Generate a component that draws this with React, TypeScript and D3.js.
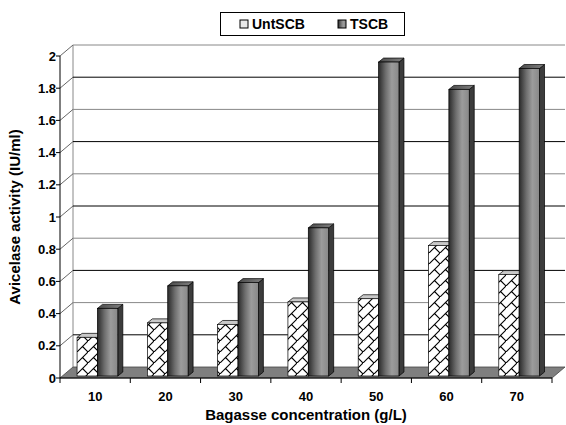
import React from "react";
import * as d3 from "d3";

const categories = ["10", "20", "30", "40", "50", "60", "70"];
const untSCB = [0.24, 0.33, 0.32, 0.46, 0.48, 0.81, 0.63];
const tSCB = [0.42, 0.56, 0.58, 0.92, 1.95, 1.78, 1.91];
const yTicks = [0, 0.2, 0.4, 0.6, 0.8, 1, 1.2, 1.4, 1.6, 1.8, 2];
const seriesNames = ["UntSCB", "TSCB"];

const W = 566;
const H = 425;
// front plane
const left = 60;
const right = 552;
const y0 = 378;
const y2 = 56;
// depth offset of back wall
const DX = 13;
const DY = -11;
// bar plane offset, bar depth
const BX = 2.4;
const BY = -2;
const bdx = 5;
const bdy = -4;

const font = "'Liberation Sans', Arial, sans-serif";

export default function App() {
  const x = d3.scaleBand<string>().domain(categories).range([left, right]).padding(0);
  const y = d3.scaleLinear().domain([0, 2]).range([y0, y2]);
  const bw = x.bandwidth() / 3.45;
  const fmt = (v: number) => d3.format("~g")(v);

  const bars: React.ReactNode[] = [];
  categories.forEach((c, i) => {
    const series = [untSCB[i], tSCB[i]];
    series.forEach((v, s) => {
      const bx = (x(c) as number) + 0.72 * bw + s * bw + BX;
      const top = y(v) + BY;
      const base = y(0) + BY;
      const h = base - top;
      const side = `M${bx + bw},${top} L${bx + bw + bdx},${top + bdy} L${bx + bw + bdx},${base + bdy} L${bx + bw},${base} Z`;
      const topFace = `M${bx},${top} L${bx + bdx},${top + bdy} L${bx + bw + bdx},${top + bdy} L${bx + bw},${top} Z`;
      bars.push(
        <g key={c + "-" + s}>
          <path d={side} fill={s === 0 ? "#9a9a9a" : "#3c3c3c"} stroke="#000" strokeWidth={0.7} />
          <path d={topFace} fill={s === 0 ? "#c8c8c8" : "url(#topGrad)"} stroke="#000" strokeWidth={0.7} />
          {s === 0 && <rect x={bx} y={top} width={bw} height={h} fill="#fff" />}
          <rect
            x={bx}
            y={top}
            width={bw}
            height={h}
            fill={s === 0 ? "url(#brick)" : "url(#barGrad)"}
            stroke="#000"
            strokeWidth={0.7}
          />
        </g>
      );
    });
  });

  return (
    <svg width={W} height={H} style={{ position: "absolute", left: 0, top: 0, background: "#fff" }}>
      <defs>
        <pattern id="brick" width={11} height={11} patternUnits="userSpaceOnUse">
          <rect width={11} height={11} fill="#fff" />
          <path d="M-1,12 L12,-1 M5.5,5.5 L12,12 M-1,-1 L0,0" stroke="#000" strokeWidth={1.1} fill="none" />
        </pattern>
        <linearGradient id="barGrad" x1="0" x2="1" y1="0" y2="0">
          <stop offset="0%" stopColor="#2a2a2a" />
          <stop offset="35%" stopColor="#6e6e6e" />
          <stop offset="65%" stopColor="#9c9c9c" />
          <stop offset="100%" stopColor="#888" />
        </linearGradient>
        <linearGradient id="topGrad" x1="0" x2="1" y1="0" y2="0">
          <stop offset="0%" stopColor="#4a4a4a" />
          <stop offset="100%" stopColor="#808080" />
        </linearGradient>
      </defs>

      {/* back wall & gridlines */}
      <line x1={left + DX} x2={left + DX} y1={y(2) + DY} y2={y(0) + DY} stroke="#888" strokeWidth={1} />
      {yTicks.slice(1).map((t, i) => (
        <line
          key={"g" + t}
          x1={left + DX}
          x2={right + DX}
          y1={y(t) + DY}
          y2={y(t) + DY}
          stroke={i % 2 === 0 ? "#000" : "#888"}
          strokeWidth={1}
        />
      ))}
      {yTicks.slice(1).map((t) => (
        <line key={"d" + t} x1={left} y1={y(t)} x2={left + DX} y2={y(t) + DY} stroke="#666" strokeWidth={1} />
      ))}

      {/* floor */}
      <path
        d={`M${left},${y0} L${right},${y0} L${right + DX},${y0 + DY} L${left + DX},${y0 + DY} Z`}
        fill="#7f7f7f"
        stroke="#444"
        strokeWidth={0.8}
      />

      {bars}

      {/* axes */}
      <line x1={left} x2={left} y1={y(2)} y2={y(0)} stroke="#000" strokeWidth={1} />
      <line x1={left} x2={right} y1={y0} y2={y0} stroke="#000" strokeWidth={1} />
      {yTicks.map((t) => (
        <g key={"yt" + t}>
          <line x1={left - 4} x2={left} y1={y(t)} y2={y(t)} stroke="#000" />
          <text
            x={left - 4}
            y={y(t)}
            dy="0.36em"
            textAnchor="end"
            fontFamily={font}
            fontWeight="bold"
            fontSize={13}
          >
            {fmt(t)}
          </text>
        </g>
      ))}
      {[...categories.map((c) => x(c) as number), right].map((px, i) => (
        <line key={"xt" + i} x1={px} x2={px} y1={y0} y2={y0 + 5} stroke="#000" />
      ))}
      {categories.map((c) => (
        <text
          key={"xl" + c}
          x={(x(c) as number) + x.bandwidth() / 2}
          y={401}
          textAnchor="middle"
          fontFamily={font}
          fontWeight="bold"
          fontSize={13}
        >
          {c}
        </text>
      ))}

      <text x={306} y={420} textAnchor="middle" fontFamily={font} fontWeight="bold" fontSize={15}>
        Bagasse concentration (g/L)
      </text>
      <text
        transform={`translate(20,${217}) rotate(-90)`}
        textAnchor="middle"
        fontFamily={font}
        fontWeight="bold"
        fontSize={15}
      >
        Avicelase activity (IU/ml)
      </text>

      {/* legend */}
      <rect x={220.5} y={12.5} width={184} height={23} fill="#fff" stroke="#000" strokeWidth={1} />
      {seriesNames.map((n, i) => {
        const lx = i === 0 ? 240 : 338;
        return (
          <g key={n}>
            <rect x={lx} y={20} width={8} height={8} fill={i === 0 ? "#e8e8e8" : "url(#barGrad)"} stroke="#000" strokeWidth={1} />
            <text x={lx + 12} y={29} fontFamily={font} fontWeight="bold" fontSize={14}>
              {n}
            </text>
          </g>
        );
      })}
    </svg>
  );
}
